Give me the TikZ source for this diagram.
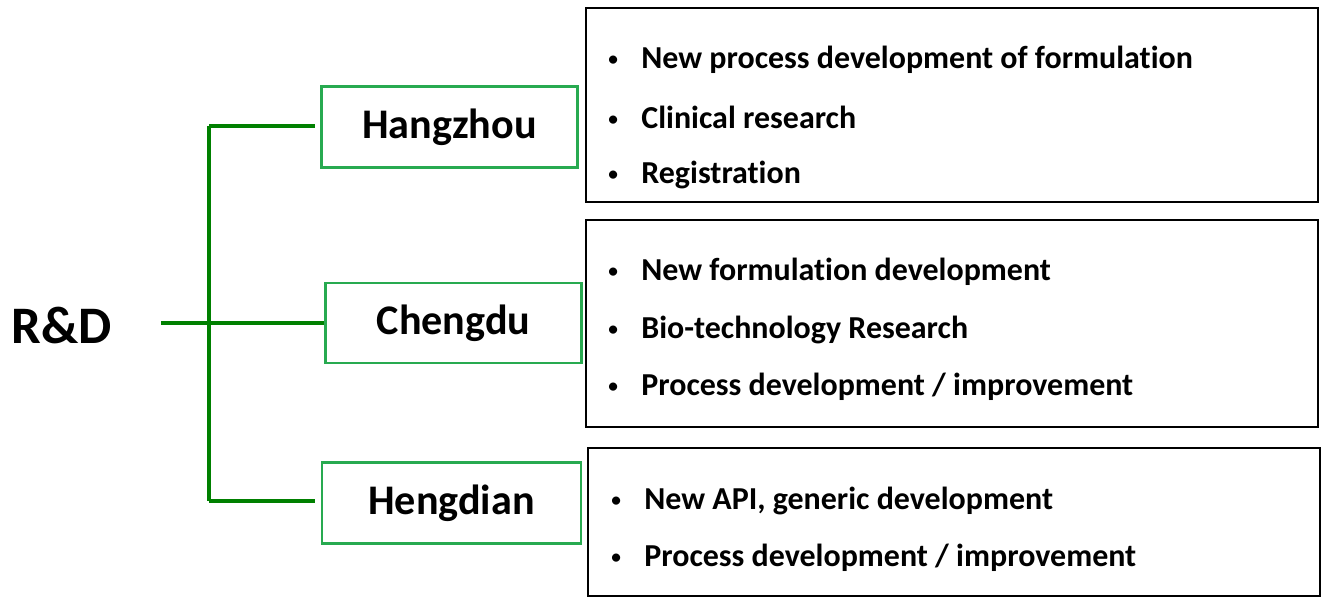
\documentclass[tikz,border=0pt]{standalone}
\usepackage{fontspec}
\setmainfont{Carlito}[Ligatures={NoCommon}]
\usetikzlibrary{positioning}
\definecolor{rdgreen}{RGB}{0,128,0}
\definecolor{boxgreen}{RGB}{40,170,80}

\tikzset{
	site/.style={draw=boxgreen, line width=1.2pt, inner sep=0pt, minimum width=5.12cm, minimum height=1.62cm,
		font=\fontsize{24}{28}\selectfont\bfseries},
	tasks/.style={draw=black, line width=1.2pt, inner sep=0pt, minimum width=14.64cm},
	item/.style={anchor=west, inner sep=0pt, font=\fontsize{18.2}{22}\selectfont\bfseries},
	link/.style={rdgreen, line width=1.9pt}
}
\newcommand{\itm}[1]{\makebox[0.72cm][l]{\hspace{0.06cm}\raisebox{1.6pt}{\fontsize{11}{11}\selectfont\textbullet}}#1}

\begin{document}
\begin{tikzpicture}[x=0.02cm, y=-0.02cm]
		\useasboundingbox (0,0) rectangle (1324,598);

		\node[font=\fontsize{30}{34}\selectfont\bfseries] (rd) at (62,325) {R\&D};

		\node[site] (hz) at (449.5,127) {\raisebox{2pt}{Hangzhou}};
		\node[site, minimum height=1.6cm] (cd) at (453.5,323) {\raisebox{2pt}{Chengdu}};
		\node[site, minimum width=5.18cm] (hd) at (451.5,503) {\raisebox{2pt}{Hengdian}};

		\node[tasks, minimum height=3.88cm] (t1) at (952,105) {};
		\node[tasks, minimum height=4.14cm] (t2) at (952,323.5) {};
		\node[tasks, minimum height=2.96cm] (t3) at (954,522) {};

		\node[item] (t1a) at (605,60) {\itm{New process development of formulation}};
		\node[item] (t1b) at (605,117) {\itm{Clinical research}};
		\node[item] (t1c) at (605,175) {\itm{Registration}};
		\node[item] (t2a) at (605,272) {\itm{New formulation development}};
		\node[item] (t2b) at (605,330) {\itm{Bio-technology Research}};
		\node[item] (t2c) at (605,387) {\itm{Process development / improvement}};
		\node[item] (t3a) at (608,501) {\itm{New API, generic development}};
		\node[item] (t3b) at (608,558) {\itm{Process development / improvement}};

		% tree lines
		\coordinate (r0) at (161,323);
		\coordinate (jt) at (209,126);
		\coordinate (jb) at (209,501);
		\coordinate (ht) at (315,126);
		\coordinate (hb) at (315,501);
		\draw[link] (r0)--(cd.west);
		\draw[link] (jt)--(jb);
		\draw[link] (jt)--(ht);
		\draw[link] (jb)--(hb);
\end{tikzpicture}
\end{document}
